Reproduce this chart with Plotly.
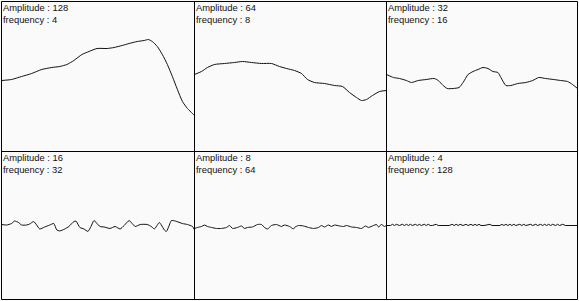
import plotly.graph_objects as go

amplitudes = [128, 64, 32, 16, 8, 4]
frequencies = [4, 8, 16, 32, 64, 128]

panel1_points = [(0, -4), (10, -3), (20, 0), (30, 3), (40, 7), (50, 9), (58, 10), (65, 12), (72, 16),
                 (80, 22), (87, 25), (95, 28), (105, 28), (112, 29), (120, 31), (127, 33), (135, 35),
                 (142, 36), (146, 37), (150, 35), (155, 30), (160, 22), (165, 12), (170, 0), (175, -13),
                 (180, -25), (185, -32), (190, -37), (192, -39)]

panel2_points = [(0, 2), (7, 5), (13, 9), (20, 12), (30, 13), (40, 14), (48, 15), (57, 14), (67, 13),
                 (77, 13), (85, 10), (92, 8), (100, 6), (107, 3), (113, -3), (120, -6), (130, -7),
                 (140, -9), (148, -10), (155, -16), (162, -21), (167, -24), (172, -23), (178, -19),
                 (185, -15), (192, -14)]

panel3_points = [(0, 2), (7, -1), (13, -2), (20, -4), (25, -6), (32, -4), (40, -3), (48, -2), (52, -4),
                 (57, -9), (61, -12), (67, -12), (73, -11), (77, -6), (82, 2), (87, 5), (92, 7), (97, 9),
                 (102, 8), (107, 5), (112, 4), (115, -1), (120, -9), (125, -9), (132, -7), (140, -6),
                 (147, -4), (153, -1), (160, -2), (168, -3), (175, -4), (182, -5), (187, -8), (192, -12)]

panel4_points = [(0, 1), (5, 0.5), (10, 2), (13, 4.5), (17, 3), (20, 0.5), (25, 0.5), (28, 1.5), (32, 4),
                 (35, 0.5), (38, -3.5), (43, -1.5), (48, 0.5), (52, 2), (55, -4.5), (58, -5.5), (63, -3.5),
                 (67, -1), (72, 4), (74, 4.5), (78, -2), (82, -3.5), (86, -6), (89, -1), (92, 5), (95, 2),
                 (98, -1), (102, -1.5), (108, -3), (113, -1), (118, -3.5), (122, 0), (127, 5), (130, 2),
                 (133, -1), (138, 1), (145, 1), (149, -1), (152, -3.5), (157, 3), (159, 0.5), (162, -4.5),
                 (164, -6), (167, 0.5), (169, 5), (173, 4.5), (180, 2), (185, 1), (190, -1), (192, -4.5)]

panel5_points = [(0, -3), (3, -2), (7, -1), (10, 0.5), (13, -1), (17, -2), (22, -3), (27, -3), (32, -2),
                 (35, 0), (38, -3), (43, -2), (47, -0.5), (50, -3), (53, -2), (58, -1.5), (63, 1), (67, 1),
                 (70, -2), (73, -3.5), (77, 0), (82, 1), (87, -1), (90, 0.5), (95, -1), (99, -3.5),
                 (100, -2), (104, 0), (109, -0.5), (114, -2), (119, -3), (124, -2), (127, 0), (130, -1.5),
                 (134, 0.5), (137, -1), (140, 0.5), (145, -0.5), (149, -1), (152, 0), (157, -1.5),
                 (162, -2), (167, -3), (171, -0.5), (174, -2), (179, 0), (182, 1), (184, -1.5), (187, 1),
                 (190, -1), (192, 0.5)]

panel6_points = [(0, 0), (4, 0), (6, 1.2), (8, 0), (10, 1.2), (13, 0), (16, 1.2), (18, 0), (20, 1.2),
                 (22, 0), (24, 1.2), (26, 0), (29, 1.2), (31, 0), (33, 1.2), (35, 0), (38, 1.2), (40, 0),
                 (42, 1.2), (44, 0), (46, 0), (50, 1.2), (52, 0), (63, 0), (66, 1.2), (68, 0), (70, 1.2),
                 (72, 0), (74, 1.2), (77, 0), (80, 1.2), (82, 0), (85, 1.2), (87, 0), (89, 1.2), (91, 0),
                 (93, 1.2), (95, 0), (98, 0), (104, 1.2), (106, 0), (114, 0), (116, 1.2), (118, 0),
                 (120, 1.2), (122, 0), (124, 1.2), (126, 0), (128, 1.2), (130, 0), (134, 1.2), (136, 0),
                 (138, 1.2), (140, 0), (145, 1.2), (147, 0), (150, 1.2), (152, 0), (155, 1.2), (157, 0),
                 (159, 1.2), (161, 0), (163, 1.2), (165, 0), (167, 1.2), (170, 0), (172, 1.2), (174, 0),
                 (177, 1.2), (180, 0), (192, 0)]

panels = [panel1_points, panel2_points, panel3_points, panel4_points, panel5_points, panel6_points]

W, H = 579, 301
xb = [1, 194, 386, 577]   # panel borders, pixels from left
yb = [1, 151, 299]        # panel borders, pixels from top


def px(x):
    return x / W


def py(y):
    return 1 - y / H


fig = go.Figure()
for i, pts in enumerate(panels):
    r, c = divmod(i, 3)
    n = i + 1
    xs = [p[0] for p in pts]
    ys = [p[1] for p in pts]
    xa = "x" if n == 1 else f"x{n}"
    ya = "y" if n == 1 else f"y{n}"
    shape = "linear" if i >= 5 else "spline"
    fig.add_trace(go.Scatter(x=xs, y=ys, mode="lines", xaxis=xa, yaxis=ya,
                             line=dict(color="#111111", width=1, shape=shape, smoothing=0.6),
                             hoverinfo="skip", showlegend=False))
    xdom = [px(xb[c] + 0.5), px(xb[c + 1] + 0.5)]
    ydom = [py(yb[r + 1] + 0.5), py(yb[r] + 0.5)]
    axcommon = dict(showline=False, showgrid=False, zeroline=False, showticklabels=False,
                    ticks="", fixedrange=True)
    fig.layout[f"xaxis{'' if n == 1 else n}"] = dict(domain=xdom, range=[0, 192], anchor=ya, **axcommon)
    fig.layout[f"yaxis{'' if n == 1 else n}"] = dict(domain=ydom, range=[-75, 75], anchor=xa, **axcommon)
    fig.add_annotation(xref="paper", yref="paper", x=px(xb[c] + 1), y=py(yb[r] + 1),
                       xanchor="left", yanchor="top", align="left", showarrow=False,
                       xshift=-1, yshift=2,
                       text=f"Amplitude : {amplitudes[i]}<br>frequency : {frequencies[i]}",
                       font=dict(family="Liberation Sans, Arial", size=9.4, color="#111111"))

# panel borders
for x in xb:
    fig.add_shape(type="line", xref="paper", yref="paper", x0=px(x + 0.5), x1=px(x + 0.5),
                  y0=py(yb[0] + 0.5), y1=py(yb[-1] + 0.5), line=dict(color="black", width=1))
for y in yb:
    fig.add_shape(type="line", xref="paper", yref="paper", x0=px(xb[0] + 0.5), x1=px(xb[-1] + 0.5),
                  y0=py(y + 0.5), y1=py(y + 0.5), line=dict(color="black", width=1))

fig.update_layout(width=W, height=H, margin=dict(l=0, r=0, t=0, b=0, pad=0),
                  paper_bgcolor="#fafafa", plot_bgcolor="#fafafa")

fig.write_html("out.html")
